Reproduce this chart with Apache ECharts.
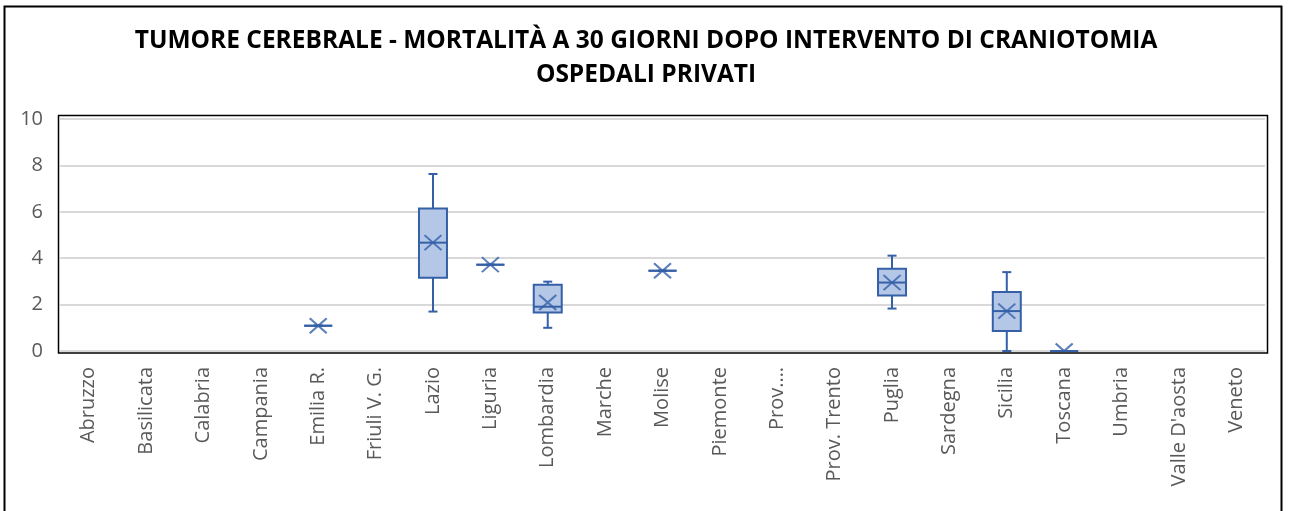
<!DOCTYPE html>
<html>
<head>
<meta charset="utf-8">
<script src="https://cdn.jsdelivr.net/npm/echarts@6/dist/echarts.min.js"></script>
<style>
  html, body { margin: 0; padding: 0; background: #fff; }
  #chart { width: 1292px; height: 511px; }
</style>
</head>
<body>
<div id="chart"></div>
<script>
const titleLines = ['TUMORE CEREBRALE - MORTALITÀ A 30 GIORNI DOPO INTERVENTO DI CRANIOTOMIA', 'OSPEDALI PRIVATI'];
const categories = ['Abruzzo', 'Basilicata', 'Calabria', 'Campania', 'Emilia R.', 'Friuli V. G.', 'Lazio', 'Liguria', 'Lombardia', 'Marche', 'Molise', 'Piemonte', 'Prov.…', 'Prov. Trento', 'Puglia', 'Sardegna', 'Sicilia', 'Toscana', 'Umbria', "Valle D'aosta", 'Veneto'];
const minV    = [null, null, null, null, 1.09, null, 1.70, 3.72, 1.00, null, 3.46, null, null, null, 1.83, null, 0.00, 0.00, null, null, null];
const q1V     = [null, null, null, null, 1.09, null, 3.16, 3.72, 1.66, null, 3.46, null, null, null, 2.39, null, 0.86, 0.00, null, null, null];
const medianV = [null, null, null, null, 1.09, null, 4.67, 3.72, 1.91, null, 3.46, null, null, null, 2.95, null, 1.72, 0.00, null, null, null];
const q3V     = [null, null, null, null, 1.09, null, 6.14, 3.72, 2.86, null, 3.46, null, null, null, 3.55, null, 2.54, 0.00, null, null, null];
const maxV    = [null, null, null, null, 1.09, null, 7.63, 3.72, 2.99, null, 3.46, null, null, null, 4.11, null, 3.40, 0.00, null, null, null];
const meanV   = [null, null, null, null, 1.09, null, 4.67, 3.72, 2.09, null, 3.46, null, null, null, 2.95, null, 1.72, 0.00, null, null, null];
const yTicks = [0, 2, 4, 6, 8, 10];

const LINE = '#3560a8';
const FILL = '#b4c7e7';

const boxData = [];
const meanData = [];
categories.forEach((c, i) => {
  if (minV[i] !== null) boxData.push([i, minV[i], q1V[i], medianV[i], q3V[i], maxV[i]]);
  if (meanV[i] !== null) meanData.push([i, meanV[i]]);
});

const chart = echarts.init(document.getElementById('chart'), null, { renderer: 'canvas' });
const option = {
  animation: false,
  backgroundColor: '#fff',
  title: {
    text: titleLines.join('\n'),
    left: 'center',
    top: 19,
    textStyle: { fontFamily: 'Open Sans', fontWeight: 'bold', fontSize: 24.5, lineHeight: 34, color: '#000' }
  },
  grid: { left: 60, right: 27, top: 119, bottom: 160, containLabel: false },
  xAxis: {
    type: 'category',
    data: categories,
    axisLine: { show: false },
    axisTick: { show: false },
    axisLabel: { rotate: 90, interval: 0, margin: 16, fontFamily: 'Open Sans', fontSize: 20, color: '#595959' },
    splitLine: { show: false }
  },
  yAxis: {
    type: 'value',
    min: yTicks[0],
    max: yTicks[yTicks.length - 1],
    interval: 2,
    axisLine: { show: false },
    axisTick: { show: false },
    axisLabel: { margin: 17, fontFamily: 'Open Sans', fontSize: 20, color: '#595959' },
    splitLine: { lineStyle: { color: '#d9d9d9', width: 2 } }
  },
  series: [
    {
      type: 'custom',
      data: boxData,
      encode: { x: 0, y: [1, 2, 3, 4, 5] },
      renderItem: function (params, api) {
        const x = api.value(0);
        const pMin = api.coord([x, api.value(1)]);
        const pQ1 = api.coord([x, api.value(2)]);
        const pMed = api.coord([x, api.value(3)]);
        const pQ3 = api.coord([x, api.value(4)]);
        const pMax = api.coord([x, api.value(5)]);
        const cx = pMed[0];
        const hw = 14, cap = 4.5;
        const st = { stroke: LINE, lineWidth: 2, fill: null };
        return {
          type: 'group',
          children: [
            { type: 'line', shape: { x1: cx, y1: pMax[1], x2: cx, y2: pQ3[1] }, style: st },
            { type: 'line', shape: { x1: cx, y1: pQ1[1], x2: cx, y2: pMin[1] }, style: st },
            { type: 'line', shape: { x1: cx - cap, y1: pMax[1], x2: cx + cap, y2: pMax[1] }, style: st },
            { type: 'line', shape: { x1: cx - cap, y1: pMin[1], x2: cx + cap, y2: pMin[1] }, style: st },
            { type: 'rect', shape: { x: cx - hw, y: pQ3[1], width: hw * 2, height: pQ1[1] - pQ3[1] }, style: { fill: FILL, stroke: LINE, lineWidth: 2 } },
            { type: 'line', shape: { x1: cx - hw, y1: pMed[1], x2: cx + hw, y2: pMed[1] }, style: st }
          ]
        };
      },
      z: 3
    },
    {
      type: 'scatter',
      data: meanData,
      symbol: 'path://M0,0L10,10M10,0L0,10',
      symbolSize: [17, 15],
      itemStyle: { color: 'transparent', borderColor: LINE, borderWidth: 2 },
      z: 4
    }
  ],
  graphic: [
    { type: 'rect', z: 100, shape: { x: 57, y: 352, width: 1212, height: 12 }, style: { fill: '#fff' } },
    { type: 'rect', z: 101, shape: { x: 58.5, y: 115.5, width: 1209, height: 237.5 }, style: { fill: null, stroke: '#000', lineWidth: 1.5 } },
    { type: 'rect', z: 101, shape: { x: 4.5, y: 6.5, width: 1277, height: 600 }, style: { fill: null, stroke: '#000', lineWidth: 2 } }
  ]
};
chart.setOption(option);
</script>
</body>
</html>
